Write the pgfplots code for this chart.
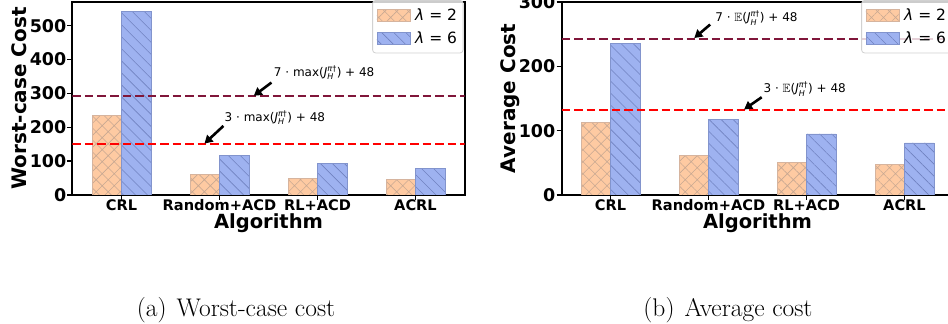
\documentclass[border=0pt]{standalone}
\usepackage{pgfplots}
\pgfplotsset{compat=1.18}
\usepackage{fontspec}
\usepackage{amssymb}
\usetikzlibrary{patterns.meta, arrows.meta}
\newfontfamily\dv{DejaVu Sans}
\definecolor{ofill}{RGB}{254,202,162}
\definecolor{oedge}{RGB}{214,180,158}
\definecolor{ohatch}{RGB}{200,168,146}
\definecolor{bfill}{RGB}{158,178,240}
\definecolor{bedge}{RGB}{130,148,205}
\definecolor{bhatch}{RGB}{112,130,192}
\definecolor{darkline}{RGB}{128,22,58}
\newcommand{\smalldv}{\fontsize{8}{9}\dv}
\newcommand{\Jt}{{\itshape J}$^{\hbox{\smalldv\itshape π\upshape†}}_{\hbox{\smalldv\itshape H}}$}
\tikzset{
 arr/.style={-{Triangle[length=8pt,width=9pt]}, line width=2.6pt, black},
 ann/.style={anchor=west, font=\dv\fontsize{12}{14}\selectfont, inner sep=0pt},
}
\pgfplotsset{
 mystyle/.style={
  scale only axis, width=392pt, height=193pt, anchor=south west,
  xmin=-0.5, xmax=3.5, ymin=0,
  xtick={0,1,2,3}, xticklabels={CRL,Random+ACD,RL+ACD,ACRL},
  xtick pos=bottom, ytick pos=left,
  tick align=outside, major tick length=5pt,
  every tick/.style={black, line width=1.5pt},
  axis line style={line width=2pt},
  /pgf/number format/assume math mode=true,
  yticklabel style={font=\dv\bfseries\fontsize{17.5}{19}\selectfont, inner sep=0pt, anchor=east, xshift=-1pt},
  xticklabel style={font=\dv\bfseries\fontsize{14.6}{17}\selectfont, inner sep=0pt, anchor=base, yshift=-11pt},
  every axis x label/.style={at={(axis description cs:0.5,-0.176)}, anchor=base, font=\dv\bfseries\fontsize{19.5}{22}\selectfont},
  every axis y label/.style={at={(axis description cs:-0.1173,0.5)}, anchor=base, rotate=90, font=\dv\bfseries\fontsize{20}{24}\selectfont},
  legend style={at={(1,1)}, anchor=north east, yshift=2pt, xshift=-1pt, draw=black!18, line width=0.8pt, rounded corners=3pt, fill=white, fill opacity=0.8, text opacity=1, font=\dv\fontsize{15.5}{18}\selectfont, inner xsep=4pt, inner ysep=6pt, row sep=6pt, nodes={inner sep=2pt}},
  legend cell align=left,
 },
 obar/.style={ybar, bar width=0.3, bar shift=-0.15, fill=ofill, draw=oedge, line width=0.6pt,
   postaction={pattern={Hatch[angle=45,distance=8.5pt,line width=0.6pt]}, pattern color=ohatch},
   legend image code/.code={\draw[##1, sharp corners, fill opacity=1, draw opacity=1] (0pt,-6pt) rectangle (33pt,6pt);}},
 bbar/.style={ybar, bar width=0.3, bar shift=0.15, fill=bfill, draw=bedge, line width=0.6pt,
   postaction={pattern={Lines[angle=-45,distance=8.5pt,line width=0.6pt]}, pattern color=bhatch},
   legend image code/.code={\draw[##1, sharp corners, fill opacity=1, draw opacity=1] (0pt,-6pt) rectangle (33pt,6pt);}},
 hl/.style={line width=2.2pt, dash pattern=on 8.5pt off 4pt, forget plot},
}
\begin{document}
\begin{tikzpicture}
\path[use as bounding box, clip] (0pt,0pt) rectangle (948pt,324pt);
\begin{axis}[mystyle, at={(72.5pt,129pt)}, ymax=570, ytick={0,100,...,500},
  xlabel={Algorithm}, ylabel={Worst-case Cost}]
\addplot[obar] coordinates {(0,236) (1,62) (2,50) (3,46)};
\addlegendentry{\hspace{3pt}{\itshape λ} = 2}
\addplot[bbar] coordinates {(0,543) (1,117) (2,94) (3,79)};
\addlegendentry{\hspace{3pt}{\itshape λ} = 6}
\addplot[hl, color=darkline] coordinates {(-0.5,292) (3.5,292)};
\addplot[hl, color=red] coordinates {(-0.5,151) (3.5,151)};
\draw[arr] (axis cs:1.53,332) -- (axis cs:1.35,293);
\draw[arr] (axis cs:1.04,204) -- (axis cs:0.847,152);
\node[ann] at (axis cs:1.554,361) {7 · max(\Jt) + 48};
\node[ann] at (axis cs:1.051,228) {3 · max(\Jt) + 48};
\end{axis}
\begin{axis}[mystyle, at={(561.5pt,129pt)}, ymax=300, ytick={0,100,200,300},
  xlabel={Algorithm}, ylabel={Average Cost}]
\addplot[obar] coordinates {(0,113) (1,62) (2,51) (3,48)};
\addlegendentry{\hspace{3pt}{\itshape λ} = 2}
\addplot[bbar] coordinates {(0,236) (1,118) (2,95) (3,81)};
\addlegendentry{\hspace{3pt}{\itshape λ} = 6}
\addplot[hl, color=darkline] coordinates {(-0.5,243) (3.5,243)};
\addplot[hl, color=red] coordinates {(-0.5,132) (3.5,132)};
\draw[arr] (axis cs:1.017,265) -- (axis cs:0.855,244);
\draw[arr] (axis cs:1.543,152) -- (axis cs:1.363,133);
\node[ann] at (axis cs:1.068,275) {7 · $\mathbb{E}$(\Jt) + 48};
\node[ann] at (axis cs:1.56,165) {3 · $\mathbb{E}$(\Jt) + 48};
\end{axis}
\node[anchor=base, font=\fontsize{25.5}{29}\selectfont] at (236pt,7.5pt) {(a)\hspace{0.4em}Worst-case cost};
\node[anchor=base, font=\fontsize{25.5}{29}\selectfont] at (728pt,7.5pt) {(b)\hspace{0.4em}Average cost};
\end{tikzpicture}
\end{document}
